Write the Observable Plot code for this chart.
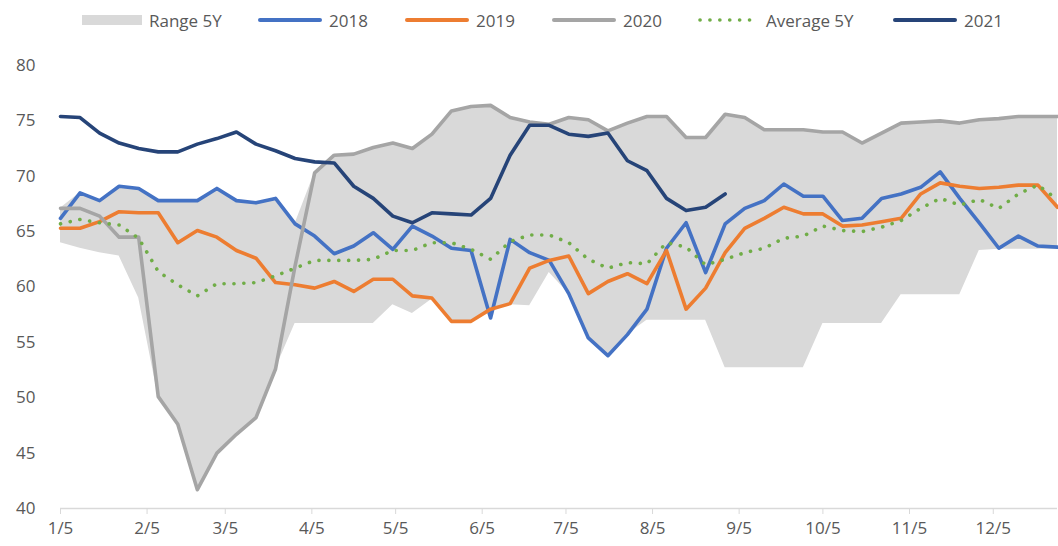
<!DOCTYPE html>
<html>
<head>
<meta charset="utf-8">
<script src="https://cdn.jsdelivr.net/npm/d3@7"></script>
<script src="https://cdn.jsdelivr.net/npm/@observablehq/plot@0.6"></script>
<style>
  body { margin: 0; background: #fff; font-family: "Open Sans", sans-serif; }
  #legend { position: relative; height: 40px; width: 1058px; }
  .item { position: absolute; top: 8px; height: 24px; display: flex; align-items: center; font-size: 17px; color: #595959; white-space: nowrap; }
  .item svg { margin-right: 7px; }
  #chart svg { display: block; }
</style>
</head>
<body>
<div id="legend"></div>
<div id="chart"></div>
<script>
// ---- data ----
const tickLabels = ["1/5","2/5","3/5","4/5","5/5","6/5","7/5","8/5","9/5","10/5","11/5","12/5"];
const firstWeek = "1/5";
const yTicks = [40,45,50,55,60,65,70,75,80];

const rangeLow = [64.0,63.5,63.1,62.8,59.0,50.1,47.6,41.7,45.0,46.7,48.2,52.6,56.7,56.7,56.7,56.7,56.7,58.4,57.6,58.9,56.8,56.8,58.0,58.4,58.3,61.3,59.4,55.4,53.8,55.7,57.0,57.0,57.0,57.0,52.7,52.7,52.7,52.7,52.7,56.7,56.7,56.7,56.7,59.3,59.3,59.3,59.3,63.3,63.4,63.4,63.4,63.4];
const rangeHigh = [67.1,68.5,67.8,69.1,68.9,67.8,67.8,67.8,68.9,67.8,67.6,68.0,65.7,70.3,71.9,72.0,72.6,73.0,72.5,73.8,75.9,76.3,76.4,75.3,74.9,74.7,75.3,75.1,74.1,74.8,75.4,75.4,73.5,73.5,75.6,75.3,74.2,74.2,74.2,74.0,74.0,73.0,73.9,74.8,74.9,75.0,74.8,75.1,75.2,75.4,75.4,75.4];
const y2018 = [66.2,68.5,67.8,69.1,68.9,67.8,67.8,67.8,68.9,67.8,67.6,68.0,65.7,64.6,63.0,63.7,64.9,63.4,65.5,64.6,63.5,63.3,57.2,64.3,63.1,62.4,59.4,55.4,53.8,55.7,58.0,63.5,65.8,61.3,65.7,67.1,67.8,69.3,68.2,68.2,66.0,66.2,68.0,68.4,69.0,70.4,68.0,65.8,63.5,64.6,63.7,63.6];
const y2019 = [65.3,65.3,65.9,66.8,66.7,66.7,64.0,65.1,64.5,63.3,62.6,60.4,60.2,59.9,60.5,59.6,60.7,60.7,59.2,59.0,56.9,56.9,58.0,58.5,61.7,62.4,62.8,59.4,60.5,61.2,60.3,63.3,58.0,59.9,63.1,65.3,66.2,67.2,66.6,66.6,65.5,65.6,65.9,66.2,68.4,69.4,69.1,68.9,69.0,69.2,69.2,67.2];
const y2020 = [67.1,67.1,66.4,64.5,64.5,50.1,47.6,41.7,45.0,46.7,48.2,52.6,61.9,70.3,71.9,72.0,72.6,73.0,72.5,73.8,75.9,76.3,76.4,75.3,74.9,74.7,75.3,75.1,74.1,74.8,75.4,75.4,73.5,73.5,75.6,75.3,74.2,74.2,74.2,74.0,74.0,73.0,73.9,74.8,74.9,75.0,74.8,75.1,75.2,75.4,75.4,75.4];
const avg5Y = [65.7,66.1,65.8,65.6,64.4,61.4,60.2,59.2,60.3,60.3,60.4,61.0,61.7,62.4,62.4,62.4,62.5,63.3,63.3,64.0,64.0,63.4,62.5,64.1,64.7,64.7,64.0,62.5,61.7,62.2,62.1,64.0,63.6,62.0,62.5,63.1,63.5,64.4,64.6,65.5,65.1,65.0,65.4,66.0,67.1,68.0,67.4,67.9,67.1,68.4,69.2,67.9];
const y2021 = [75.4,75.3,73.9,73.0,72.5,72.2,72.2,72.9,73.4,74.0,72.9,72.3,71.6,71.3,71.2,69.1,68.0,66.4,65.8,66.7,66.6,66.5,68.0,71.9,74.6,74.6,73.8,73.6,73.9,71.4,70.5,68.0,66.9,67.2,68.4];

const seriesNames = ["Range 5Y","2018","2019","2020","Average 5Y","2021"];

// ---- styling ----
const colors = {"Range 5Y":"#d9d9d9","2018":"#4472c4","2019":"#ed7d31","2020":"#a5a5a5","Average 5Y":"#70ad47","2021":"#264478"};
const textColor = "#595959";
const font = "'Open Sans', sans-serif";

// ---- build dates ----
const parseMD = s => { const [m, d] = s.split("/").map(Number); return new Date(Date.UTC(2021, m - 1, d)); };
const start = parseMD(firstWeek);
const weekDate = i => d3.utcDay.offset(start, 7 * i);
const tickDates = tickLabels.map(parseMD);
const labelByTime = new Map(tickDates.map((d, i) => [+d, tickLabels[i]]));

const rangeRows = rangeLow.map((lo, i) => ({date: weekDate(i), low: lo, high: rangeHigh[i]}));
const rows = (vals) => vals.map((v, i) => ({date: weekDate(i), value: v}));

const lineOpts = (name, extra = {}) => ({x: "date", y: "value", stroke: colors[name], strokeWidth: 3.6, strokeLinejoin: "round", strokeLinecap: "round", curve: "linear", ...extra});

const chart = Plot.plot({
  width: 1058,
  height: 506,
  marginLeft: 60,
  marginRight: 1,
  marginTop: 25,
  marginBottom: 38,
  style: {fontFamily: font, fontSize: "17px", color: textColor, background: "#fff"},
  x: {type: "utc", domain: [weekDate(0), weekDate(rangeLow.length - 1)]},
  y: {domain: [40, 80]},
  marks: [
    Plot.areaY(rangeRows, {x: "date", y1: "low", y2: "high", fill: colors["Range 5Y"], curve: "linear"}),
    Plot.ruleY([40], {stroke: "#d9d9d9", strokeWidth: 1.5}),
    Plot.axisX({ticks: tickDates, tickFormat: d => labelByTime.get(+d), tickSize: 6, tickPadding: 7, stroke: "#d9d9d9", fill: textColor, label: null, fontSize: 17}),
    Plot.axisY({ticks: yTicks, tickSize: 0, tickPadding: 25, fill: textColor, label: null, fontSize: 17}),
    Plot.lineY(rows(y2018), lineOpts("2018")),
    Plot.lineY(rows(y2019), lineOpts("2019")),
    Plot.lineY(rows(y2020), lineOpts("2020")),
    Plot.lineY(rows(avg5Y), lineOpts("Average 5Y", {strokeWidth: 3.6, strokeDasharray: "0.1 9.8"})),
    Plot.lineY(rows(y2021), lineOpts("2021"))
  ]
});
document.getElementById("chart").appendChild(chart);

// ---- legend ----
const legendLeft = {"Range 5Y": 82, "2018": 258, "2019": 405, "2020": 552, "Average 5Y": 697, "2021": 893};
const legend = document.getElementById("legend");
for (const name of seriesNames) {
  const item = document.createElement("div");
  item.className = "item";
  item.style.left = legendLeft[name] + "px";
  let sw;
  if (name === "Range 5Y") {
    sw = `<svg width="60" height="12"><rect x="0" y="1" width="60" height="10" fill="${colors[name]}"/></svg>`;
  } else if (name === "Average 5Y") {
    sw = `<svg width="62" height="12"><line x1="3" x2="58" y1="6" y2="6" stroke="${colors[name]}" stroke-width="3.6" stroke-linecap="round" stroke-dasharray="0.1 9.8"/></svg>`;
  } else {
    sw = `<svg width="64" height="12"><line x1="2" x2="62" y1="6" y2="6" stroke="${colors[name]}" stroke-width="4" stroke-linecap="round"/></svg>`;
  }
  item.innerHTML = sw + `<span>${name}</span>`;
  legend.appendChild(item);
}
</script>
</body>
</html>
